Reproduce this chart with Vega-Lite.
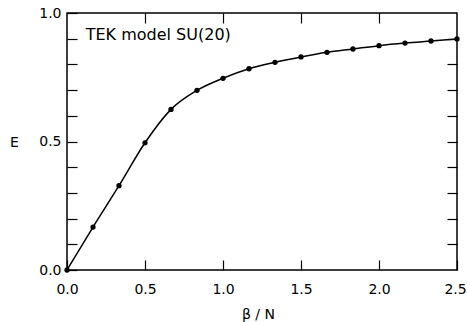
{
  "$schema": "https://vega.github.io/schema/vega-lite/v6.json",
  "autosize": {"type": "none"},
  "padding": {"left": 67, "top": 13, "right": 10, "bottom": 52},
  "width": 390,
  "height": 257,
  "background": "white",
  "config": {
    "view": {"stroke": "black", "strokeWidth": 1.5},
    "font": "DejaVu Sans",
    "axis": {"grid": false, "domain": false, "tickColor": "black", "tickWidth": 1.2, "labelColor": "black", "titleColor": "black", "labelFont": "DejaVu Sans", "titleFont": "DejaVu Sans", "labelFontSize": 14, "titleFontSize": 14, "titleFontWeight": "normal"}
  },
  "datasets": {
    "curve": [
      {"b": 0, "E": 0},
      {"b": 0.1667, "E": 0.167},
      {"b": 0.3333, "E": 0.328},
      {"b": 0.5, "E": 0.495},
      {"b": 0.6667, "E": 0.625},
      {"b": 0.8333, "E": 0.699},
      {"b": 1.0, "E": 0.746},
      {"b": 1.1667, "E": 0.783},
      {"b": 1.3333, "E": 0.808},
      {"b": 1.5, "E": 0.829},
      {"b": 1.6667, "E": 0.847},
      {"b": 1.8333, "E": 0.860},
      {"b": 2.0, "E": 0.873},
      {"b": 2.1667, "E": 0.883},
      {"b": 2.3333, "E": 0.891},
      {"b": 2.5, "E": 0.899}
    ],
    "label": [{"b": 0.12, "E": 0.915, "t": "TEK model SU(20)"}]
  },
  "layer": [
    {"data": {"name": "curve"},
     "mark": {"type": "line", "interpolate": "monotone", "color": "black", "strokeWidth": 1.5},
     "encoding": {
      "x": {"field": "b", "type": "quantitative", "scale": {"domain": [0, 2.5], "nice": false, "zero": false},
        "axis": {"orient": "bottom", "values": [0, 0.5, 1, 1.5, 2, 2.5], "format": ".1f", "tickSize": -10, "labelPadding": 22, "labelOffset": {"condition": {"test": "datum.value > 2.4", "value": -2}, "value": 0}, "title": "β / N", "titlePadding": 11, "titleX": 191, "labelFlush": false}},
      "y": {"field": "E", "type": "quantitative", "scale": {"domain": [0, 1], "nice": false, "zero": false},
        "axis": {"orient": "left", "values": [0, 0.1, 0.2, 0.3, 0.4, 0.5, 0.6, 0.7, 0.8, 0.9, 1.0], "labelExpr": "(abs(datum.value) < 0.001 || abs(datum.value - 0.5) < 0.001 || abs(datum.value - 1) < 0.001) ? format(datum.value, '.1f') : ''", "tickSize": -10, "labelPadding": 16, "labelFlush": false, "title": "E", "titleAngle": 0, "titleX": -53, "titleY": 129, "titleAlign": "center", "titleBaseline": "middle"}}
     }},
    {"data": {"name": "curve"},
     "mark": {"type": "point", "filled": true, "color": "black", "size": 28, "opacity": 1},
     "encoding": {
      "x": {"field": "b", "type": "quantitative", "axis": null},
      "y": {"field": "E", "type": "quantitative", "axis": null}
     }},
    {"data": {"name": "label"},
     "mark": {"type": "text", "align": "left", "baseline": "middle", "fontSize": 16, "color": "black", "font": "DejaVu Sans"},
     "encoding": {
      "x": {"field": "b", "type": "quantitative", "axis": null},
      "y": {"field": "E", "type": "quantitative", "axis": null},
      "text": {"field": "t"}
     }},
    {"data": {"name": "curve"},
     "mark": {"type": "rule", "opacity": 0},
     "encoding": {
      "x": {"field": "b", "type": "quantitative", "axis": {"orient": "top", "values": [0.5, 1, 1.5, 2], "labels": false, "tickSize": -10, "title": null}},
      "y": {"field": "E", "type": "quantitative", "axis": {"orient": "right", "values": [0.1, 0.2, 0.3, 0.4, 0.5, 0.6, 0.7, 0.8, 0.9], "labels": false, "tickSize": -10, "title": null}}
     }}
  ],
  "resolve": {"axis": {"x": "independent", "y": "independent"}}
}
